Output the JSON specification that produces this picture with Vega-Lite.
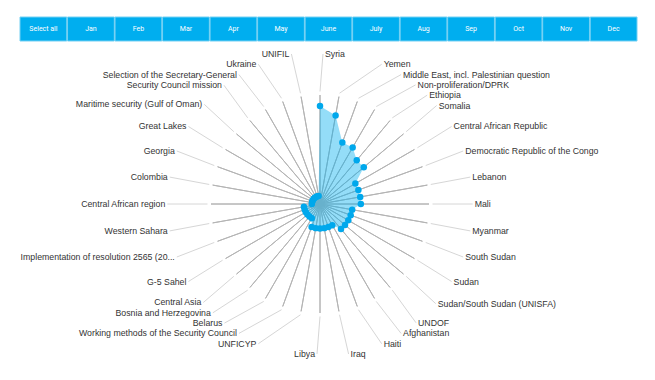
{
  "$schema": "https://vega.github.io/schema/vega-lite/v6.json",
  "padding": {"left": 19, "top": 16, "right": 0, "bottom": 0},
  "spacing": 0,
  "bounds": "flush",
  "config": {"view": {"stroke": null}, "font": "Liberation Sans"},
  "datasets": {
    "buttons": [
      {"label": "Select all"}, {"label": "Jan"}, {"label": "Feb"}, {"label": "Mar"}, {"label": "Apr"},
      {"label": "May"}, {"label": "June"}, {"label": "July"}, {"label": "Aug"}, {"label": "Sep"},
      {"label": "Oct"}, {"label": "Nov"}, {"label": "Dec"}
    ],
    "rings": [{"ring": 3}, {"ring": 6}, {"ring": 9}, {"ring": 12}],
    "topics": [
      {"i": 0, "topic": "Syria", "value": 12},
      {"i": 1, "topic": "Yemen", "value": 11},
      {"i": 2, "topic": "Middle East, incl. Palestinian question", "value": 8},
      {"i": 3, "topic": "Non-proliferation/DPRK", "value": 8},
      {"i": 4, "topic": "Ethiopia", "value": 7},
      {"i": 5, "topic": "Somalia", "value": 7},
      {"i": 6, "topic": "Central African Republic", "value": 5},
      {"i": 7, "topic": "Democratic Republic of the Congo", "value": 5},
      {"i": 8, "topic": "Lebanon", "value": 5},
      {"i": 9, "topic": "Mali", "value": 5},
      {"i": 10, "topic": "Myanmar", "value": 4},
      {"i": 11, "topic": "South Sudan", "value": 4},
      {"i": 12, "topic": "Sudan", "value": 4},
      {"i": 13, "topic": "Sudan/South Sudan (UNISFA)", "value": 4},
      {"i": 14, "topic": "UNDOF", "value": 4},
      {"i": 15, "topic": "Afghanistan", "value": 3},
      {"i": 16, "topic": "Haiti", "value": 3},
      {"i": 17, "topic": "Iraq", "value": 3},
      {"i": 18, "topic": "Libya", "value": 3},
      {"i": 19, "topic": "UNFICYP", "value": 3},
      {"i": 20, "topic": "Working methods of the Security Council", "value": 3},
      {"i": 21, "topic": "Belarus", "value": 2},
      {"i": 22, "topic": "Bosnia and Herzegovina", "value": 2},
      {"i": 23, "topic": "Central Asia", "value": 2},
      {"i": 24, "topic": "G-5 Sahel", "value": 2},
      {"i": 25, "topic": "Implementation of resolution 2565 (20...", "value": 2},
      {"i": 26, "topic": "Western Sahara", "value": 2},
      {"i": 27, "topic": "Central African region", "value": 1},
      {"i": 28, "topic": "Colombia", "value": 1},
      {"i": 29, "topic": "Georgia", "value": 1},
      {"i": 30, "topic": "Great Lakes", "value": 1},
      {"i": 31, "topic": "Maritime security (Gulf of Oman)", "value": 1},
      {"i": 32, "topic": "Security Council mission", "value": 1},
      {"i": 33, "topic": "Selection of the Secretary-General", "value": 1},
      {"i": 34, "topic": "Ukraine", "value": 1},
      {"i": 35, "topic": "UNIFIL", "value": 1}
    ]
  },
  "vconcat": [
    {
      "width": 617,
      "height": 24,
      "data": {"name": "buttons"},
      "encoding": {
        "x": {"field": "label", "type": "nominal", "sort": null, "axis": null,
              "scale": {"paddingInner": 0.015, "paddingOuter": 0}}
      },
      "layer": [
        {"mark": {"type": "rect", "fill": "#00aeef", "stroke": "#74d0f3", "strokeWidth": 1}},
        {"mark": {"type": "text", "color": "#ffffff", "font": "Roboto", "fontSize": 7},
         "encoding": {"text": {"field": "label"}}}
      ]
    },
    {
      "width": 600,
      "height": 326,
      "data": {"name": "topics"},
      "layer": [
        {
          "data": {"name": "rings"},
          "mark": {"type": "arc", "theta": 0, "theta2": 6.2832, "fillOpacity": 0, "stroke": "#dcdcdc", "strokeWidth": 1},
          "encoding": {
            "radius": {"field": "ring", "type": "quantitative",
                       "scale": {"type": "linear", "domain": [0, 19.959], "zero": true, "nice": false}}
          }
        },
        {
          "mark": {"type": "arc", "radius": 109, "radius2": 0, "fillOpacity": 0, "stroke": "#b4b4b4", "strokeWidth": 1},
          "encoding": {
            "theta": {"field": "i", "type": "quantitative", "stack": null, "scale": {"domain": [0, 36], "zero": true, "nice": false}},
            "theta2": {"field": "i"}
          }
        },
        {
          "transform": [
            {"calculate": "datum.i * PI / 18", "as": "phi"},
            {"calculate": "datum.i < 18 ? 1 : -1", "as": "side"},
            {"calculate": "datum.i < 18 ? datum.i : 35 - datum.i", "as": "k"},
            {"calculate": "clamp(18.98 * cos(datum.phi), -18.367, 18.367) + 1.2612 * datum.k", "as": "a"},
            {"window": [{"op": "min", "field": "a", "as": "amin"}], "groupby": ["side"],
             "sort": [{"field": "k", "order": "ascending"}], "frame": [null, 0]},
            {"calculate": "max(datum.amin - 1.2612 * datum.k, -18.367) + 1.2612 * datum.k", "as": "b"},
            {"window": [{"op": "max", "field": "b", "as": "bmax"}], "groupby": ["side"],
             "sort": [{"field": "k", "order": "descending"}], "frame": [null, 0]},
            {"calculate": "datum.bmax - 1.2612 * datum.k", "as": "ly"},
            {"calculate": "min(sqrt(max(0, 349.6 - datum.ly * datum.ly)), 43.65 * abs(sin(datum.phi)) + 0.367)", "as": "lx"},
            {"calculate": "datum.side * datum.lx", "as": "cx"},
            {"calculate": "datum.side * (datum.lx + 0.245)", "as": "tx"},
            {"calculate": "13.776 * sin(datum.phi)", "as": "sx"},
            {"calculate": "13.776 * cos(datum.phi)", "as": "sy"}
          ],
          "layer": [
            {
              "mark": {"type": "rule", "color": "#d6d6d6", "strokeWidth": 1},
              "encoding": {
                "x": {"field": "sx", "type": "quantitative", "axis": null, "scale": {"domain": [-36.735, 36.735], "zero": false, "nice": false}},
                "y": {"field": "sy", "type": "quantitative", "axis": null, "scale": {"domain": [-19.959, 19.959], "zero": false, "nice": false}},
                "x2": {"field": "cx"},
                "y2": {"field": "ly"}
              }
            },
            {
              "transform": [{"filter": "datum.side > 0"}],
              "mark": {"type": "text", "align": "left", "baseline": "middle", "fontSize": 8.75, "color": "#333333", "font": "Liberation Sans"},
              "encoding": {
                "x": {"field": "tx", "type": "quantitative", "axis": null, "scale": {"domain": [-36.735, 36.735], "zero": false, "nice": false}},
                "y": {"field": "ly", "type": "quantitative", "axis": null, "scale": {"domain": [-19.959, 19.959], "zero": false, "nice": false}},
                "text": {"field": "topic"}
              }
            },
            {
              "transform": [{"filter": "datum.side < 0"}],
              "mark": {"type": "text", "align": "right", "baseline": "middle", "fontSize": 8.75, "color": "#333333", "font": "Liberation Sans"},
              "encoding": {
                "x": {"field": "tx", "type": "quantitative", "axis": null, "scale": {"domain": [-36.735, 36.735], "zero": false, "nice": false}},
                "y": {"field": "ly", "type": "quantitative", "axis": null, "scale": {"domain": [-19.959, 19.959], "zero": false, "nice": false}},
                "text": {"field": "topic"}
              }
            }
          ]
        },
        {
          "transform": [
            {"calculate": "datum.value * sin(datum.i * PI / 18)", "as": "px"},
            {"calculate": "datum.value * cos(datum.i * PI / 18)", "as": "py"}
          ],
          "mark": {"type": "line", "interpolate": "linear-closed", "fill": "#00aeef", "fillOpacity": 0.42, "strokeOpacity": 0},
          "encoding": {
            "x": {"field": "px", "type": "quantitative", "axis": null, "scale": {"domain": [-36.735, 36.735], "zero": false, "nice": false}},
            "y": {"field": "py", "type": "quantitative", "axis": null, "scale": {"domain": [-19.959, 19.959], "zero": false, "nice": false}},
            "order": {"field": "i"}
          }
        },
        {
          "transform": [
            {"calculate": "datum.value * sin(datum.i * PI / 18)", "as": "px"},
            {"calculate": "datum.value * cos(datum.i * PI / 18)", "as": "py"}
          ],
          "mark": {"type": "point", "filled": true, "color": "#00a8ec", "opacity": 1, "size": 42},
          "encoding": {
            "x": {"field": "px", "type": "quantitative", "axis": null, "scale": {"domain": [-36.735, 36.735], "zero": false, "nice": false}},
            "y": {"field": "py", "type": "quantitative", "axis": null, "scale": {"domain": [-19.959, 19.959], "zero": false, "nice": false}}
          }
        }
      ]
    }
  ]
}
